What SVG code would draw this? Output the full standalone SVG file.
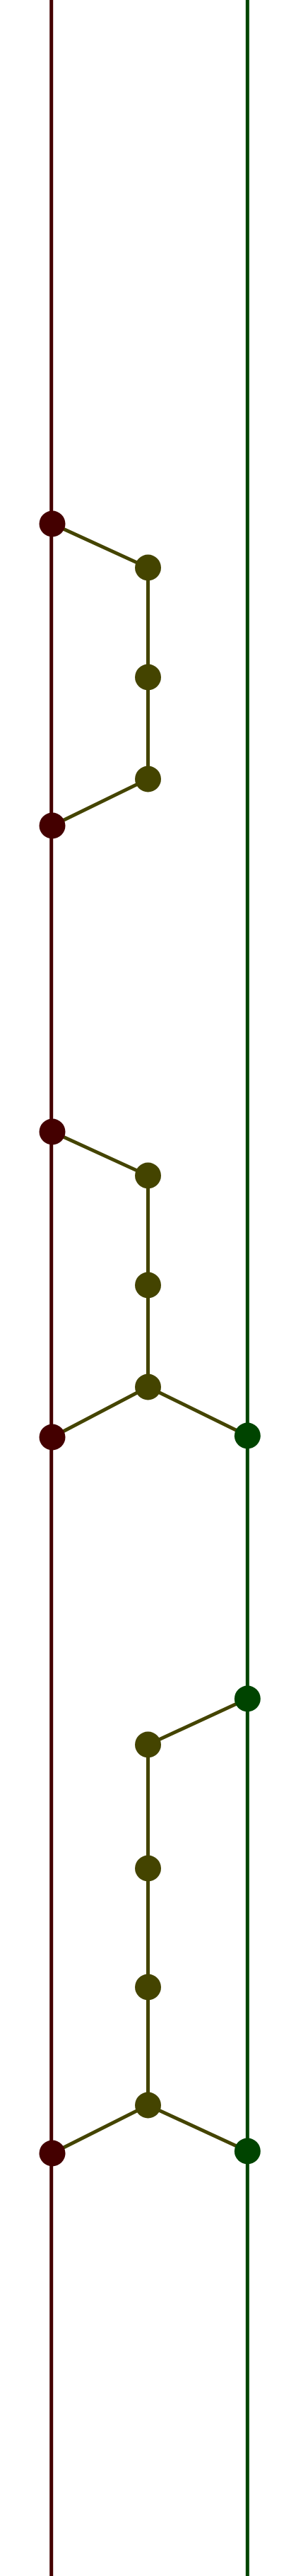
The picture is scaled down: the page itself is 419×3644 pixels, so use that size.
<svg xmlns="http://www.w3.org/2000/svg" width="419" height="3644" viewBox="0 0 419 3644">
<style>
.r{stroke:#440000;stroke-width:5;fill:none}
.g{stroke:#004400;stroke-width:5;fill:none}
.o{stroke:#444400;stroke-width:5;fill:none}
.nr{fill:#440000}
.no{fill:#444400}
.ng{fill:#004400}
</style>
<rect width="419" height="3644" fill="#ffffff"/>
<g id="connectors">
<line class="r" x1="72.7" y1="0" x2="72.7" y2="3644"/>
<line class="g" x1="350.3" y1="0" x2="350.3" y2="3644"/>
<polyline class="o" points="74,741 209.5,803 209.5,958 209.5,1102 74,1168"/>
<polyline class="o" points="74,1601 209.5,1663 209.5,1818 209.5,1962 74,2033"/>
<line class="o" x1="209.5" y1="1962" x2="350.3" y2="2031"/>
<polyline class="o" points="350.3,2403 209.5,2468 209.5,2643 209.5,2811 209.5,2978 74,3046"/>
<line class="o" x1="209.5" y1="2978" x2="350.3" y2="3043"/>
</g>
<g id="r1"><circle class="nr" cx="74" cy="741" r="18.5"/></g>
<g id="r2"><circle class="nr" cx="74" cy="1168" r="18.5"/></g>
<g id="r3"><circle class="nr" cx="74" cy="1601" r="18.5"/></g>
<g id="r4"><circle class="nr" cx="74" cy="2033" r="18.5"/></g>
<g id="r5"><circle class="nr" cx="74" cy="3046" r="18.5"/></g>
<g id="o1"><circle class="no" cx="209.5" cy="803" r="18.5"/></g>
<g id="o2"><circle class="no" cx="209.5" cy="958" r="18.5"/></g>
<g id="o3"><circle class="no" cx="209.5" cy="1102" r="18.5"/></g>
<g id="o4"><circle class="no" cx="209.5" cy="1663" r="18.5"/></g>
<g id="o5"><circle class="no" cx="209.5" cy="1818" r="18.5"/></g>
<g id="o6"><circle class="no" cx="209.5" cy="1962" r="18.5"/></g>
<g id="o7"><circle class="no" cx="209.5" cy="2468" r="18.5"/></g>
<g id="o8"><circle class="no" cx="209.5" cy="2643" r="18.5"/></g>
<g id="o9"><circle class="no" cx="209.5" cy="2811" r="18.5"/></g>
<g id="o10"><circle class="no" cx="209.5" cy="2978" r="18.5"/></g>
<g id="g1"><circle class="ng" cx="350.3" cy="2031" r="18.5"/></g>
<g id="g2"><circle class="ng" cx="350.3" cy="2403" r="18.5"/></g>
<g id="g3"><circle class="ng" cx="350.3" cy="3043" r="18.5"/></g>
</svg>
